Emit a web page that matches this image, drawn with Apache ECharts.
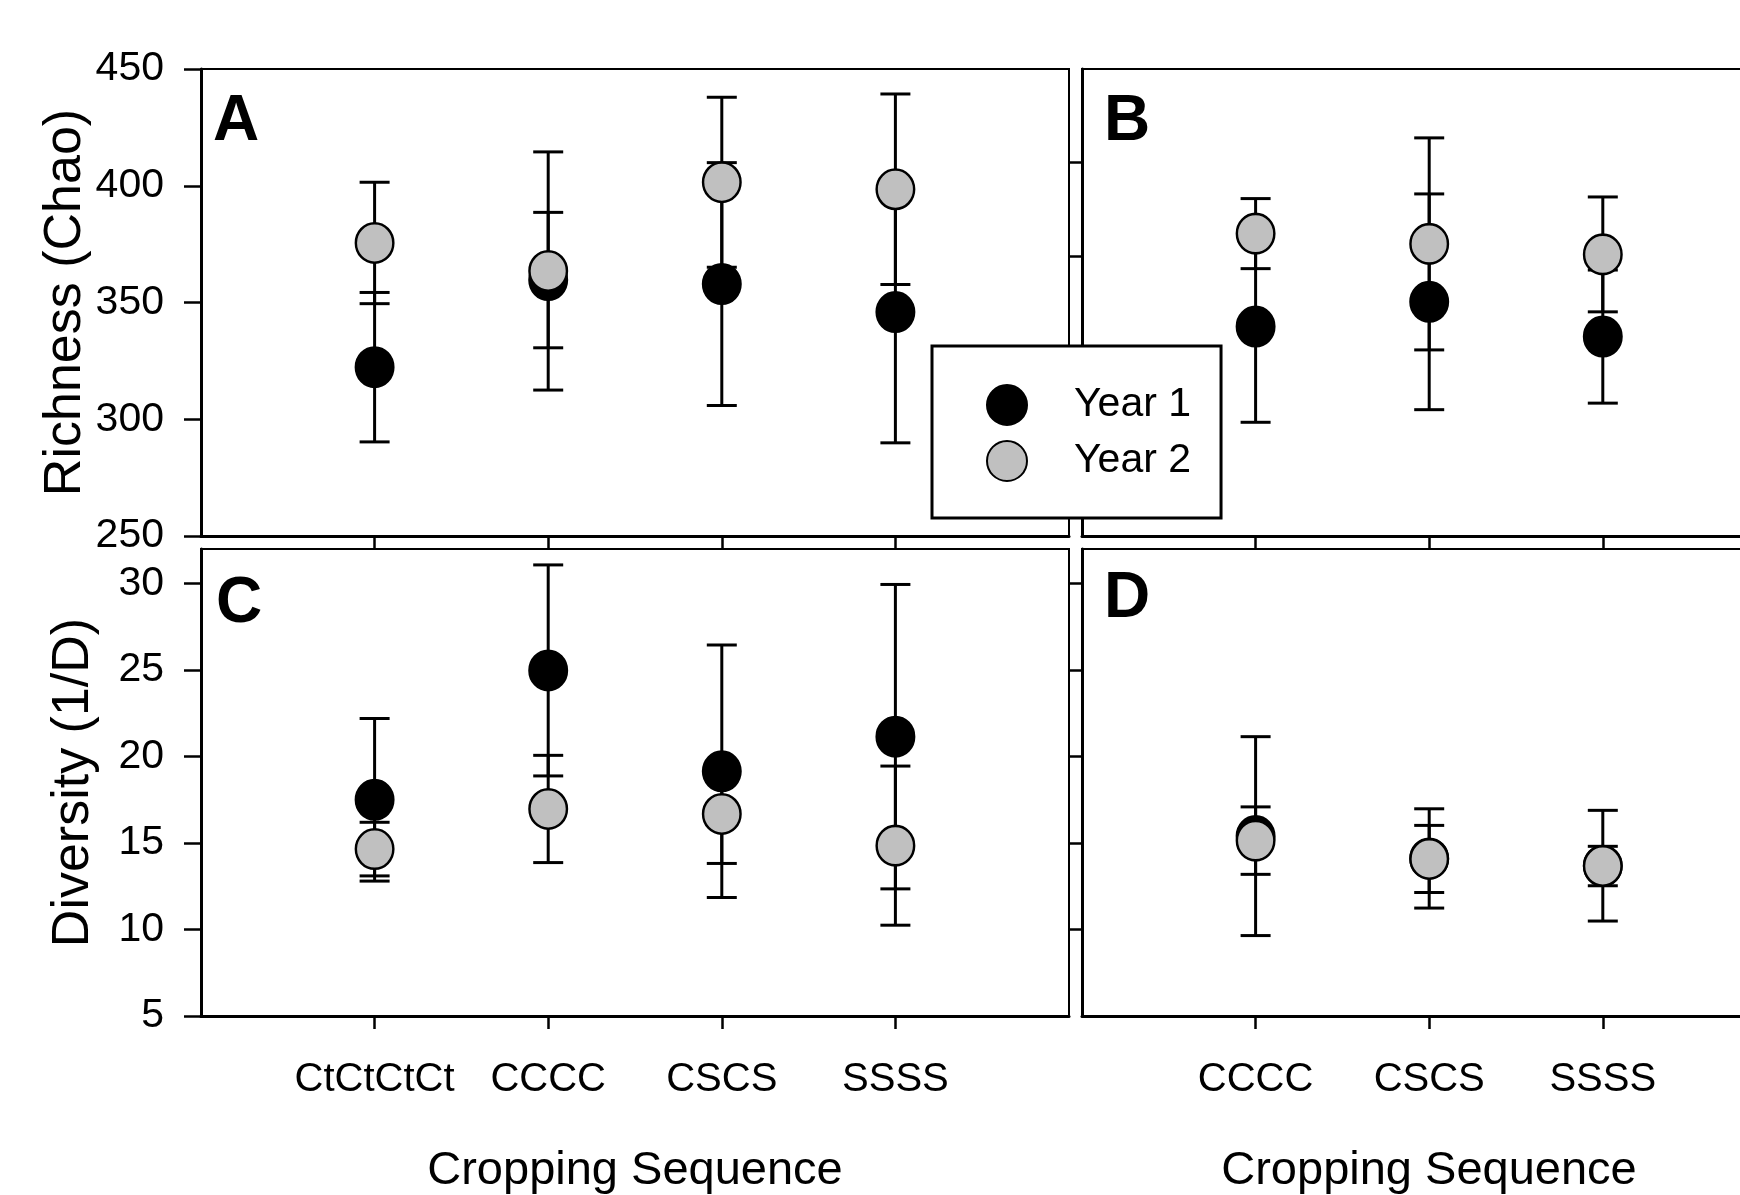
<!DOCTYPE html>
<html>
<head>
<meta charset="utf-8">
<script src="https://cdn.jsdelivr.net/npm/echarts@6/dist/echarts.min.js"></script>
<style>
  html, body { margin: 0; padding: 0; background: #fff; }
  #chart { width: 1740px; height: 1195px; }
</style>
</head>
<body>
<div id="chart"></div>
<script>
// cropping sequences (left panels A/C, right panels B/D)
const seqLeft = ['CtCtCtCt', 'CCCC', 'CSCS', 'SSSS'];
const seqRight = ['CCCC', 'CSCS', 'SSSS'];

// tick labels
const richTicks = [250, 300, 350, 400, 450];
const divTicks = [5, 10, 15, 20, 25, 30];

// A: richness, left panel
const richA1 = [322.3, 359.6, 357.9, 345.9];
const richA1Err = [32, 29, 52, 56];
const richA2 = [375.5, 363.5, 401.5, 398.5];
const richA2Err = [26, 51, 36.4, 40.8];

// B: richness, right panel
const richB1 = [339.7, 350.3, 335.4];
const richB1Err = [41, 46.2, 28.5];
const richB2 = [379.5, 375.1, 370.6];
const richB2Err = [15, 45.4, 24.6];

// C: diversity, left panel
const divC1 = [17.5, 24.98, 19.15, 21.15];
const divC1Err = [4.7, 6.1, 7.3, 8.8];
const divC2 = [14.65, 16.97, 16.68, 14.85];
const divC2Err = [1.55, 3.1, 2.86, 4.6];

// D: diversity, right panel
const divD1 = [15.4, 14.11, 13.69];
const divD1Err = [5.75, 2.87, 3.2];
const divD2 = [15.14, 14.08, 13.67];
const divD2Err = [1.95, 1.94, 1.14];

const FONT = '"Liberation Sans", Arial, sans-serif';
const BLACK = '#000';
const GREY = '#c0c0c0';

const chart = echarts.init(document.getElementById('chart'));

function makeGrid(left, top) {
  // right panels run past the page edge, like the reference
  return {
    left: left, top: top, width: 868, height: 467,
    outerBoundsMode: 'none', containLabel: false,
    show: true, borderColor: BLACK, borderWidth: 2, backgroundColor: 'transparent'
  };
}

function makeX(gridIndex, cats, showLabels) {
  const vals = cats.map((c, i) => i + 1);
  return {
    gridIndex: gridIndex, type: 'value', min: 0, max: 5, interval: 1,
    axisLine: { onZero: false, lineStyle: { color: BLACK, width: 3 } },
    axisTick: { customValues: vals, length: 13, lineStyle: { color: BLACK, width: 2.5 } },
    axisLabel: {
      show: showLabels, customValues: vals, margin: 44,
      fontSize: 40, color: BLACK, fontFamily: FONT,
      formatter: v => cats[v - 1] || ''
    },
    splitLine: { show: false }
  };
}

function makeY(gridIndex, min, max, interval, tickVals, labelled, name) {
  return {
    gridIndex: gridIndex, type: 'value', min: min, max: max, interval: interval,
    name: name || '', nameLocation: 'middle', nameGap: 101,
    nameTextStyle: { fontSize: 52, color: BLACK, fontFamily: FONT },
    axisLine: { lineStyle: { color: BLACK, width: 3 } },
    axisTick: { customValues: tickVals, length: labelled ? 17 : 12, lineStyle: { color: BLACK, width: 2.5 } },
    axisLabel: {
      show: labelled, customValues: tickVals, margin: 37,
      fontSize: 41, color: BLACK, fontFamily: FONT
    },
    splitLine: { show: false }
  };
}

function points(name, g, means, color) {
  return {
    type: 'scatter', name: name, xAxisIndex: g, yAxisIndex: g,
    data: means.map((m, i) => [i + 1, m]),
    symbol: 'circle', symbolSize: [37.5, 39.5], symbolKeepAspect: false,
    itemStyle: { color: color, borderColor: BLACK, borderWidth: 2.5, opacity: 1 },
    emphasis: { disabled: true },
    z: 3
  };
}

function errorBars(name, g, means, errs) {
  return {
    type: 'custom', name: name, xAxisIndex: g, yAxisIndex: g,
    data: means.map((m, i) => [i + 1, m - errs[i], m + errs[i]]),
    renderItem: function (params, api) {
      const x = api.value(0);
      const lo = api.coord([x, api.value(1)]);
      const hi = api.coord([x, api.value(2)]);
      const hw = 15;
      const style = { stroke: BLACK, lineWidth: 3 };
      return {
        type: 'group',
        children: [
          { type: 'line', shape: { x1: lo[0], y1: lo[1], x2: hi[0], y2: hi[1] }, style: style },
          { type: 'line', shape: { x1: lo[0] - hw, y1: lo[1], x2: lo[0] + hw, y2: lo[1] }, style: style },
          { type: 'line', shape: { x1: hi[0] - hw, y1: hi[1], x2: hi[0] + hw, y2: hi[1] }, style: style }
        ]
      };
    },
    silent: true,
    z: 2
  };
}

const letterStyle = { fontSize: 64, fontWeight: 'bold', color: BLACK, fontFamily: FONT };
const titleStyle = { fontSize: 47, fontWeight: 'normal', color: BLACK, fontFamily: FONT };

chart.setOption({
  animation: false,
  backgroundColor: '#fff',
  title: [
    { text: 'A', left: 213, top: 90, padding: 0, textStyle: letterStyle },
    { text: 'B', left: 1104, top: 90, padding: 0, textStyle: letterStyle },
    { text: 'C', left: 216, top: 572, padding: 0, textStyle: letterStyle },
    { text: 'D', left: 1104, top: 567, padding: 0, textStyle: letterStyle },
    { text: 'Cropping Sequence', left: 635, top: 1148, textAlign: 'center', padding: 0, textStyle: titleStyle },
    { text: 'Cropping Sequence', left: 1429, top: 1148, textAlign: 'center', padding: 0, textStyle: titleStyle }
  ],
  legend: {
    data: ['Year 1', 'Year 2'],
    orient: 'vertical',
    left: 932, top: 346,
    padding: [38, 30, 36, 54],
    itemWidth: 40, itemHeight: 42, itemGap: 14,
    borderColor: BLACK, borderWidth: 3, borderRadius: 0,
    backgroundColor: '#fff',
    selectedMode: false,
    textStyle: { fontSize: 41, color: BLACK, fontFamily: FONT, padding: [0, 0, 0, 42] },
    z: 10
  },
  grid: [
    makeGrid(201, 69),
    makeGrid(1082, 69),
    makeGrid(201, 549),
    makeGrid(1082, 549)
  ],
  xAxis: [
    makeX(0, seqLeft, false),
    makeX(1, seqRight, false),
    makeX(2, seqLeft, true),
    makeX(3, seqRight, true)
  ],
  yAxis: [
    makeY(0, 250, 450, 50, richTicks, true, 'Richness (Chao)'),
    makeY(1, 250, 450, 40, [290, 330, 370, 410], false),
    makeY(2, 5, 32, 5, divTicks, true, 'Diversity (1/D)'),
    makeY(3, 5, 32, 5, [10, 15, 20, 25, 30], false)
  ],
  series: [
    errorBars('A Year 1 SE', 0, richA1, richA1Err),
    errorBars('A Year 2 SE', 0, richA2, richA2Err),
    errorBars('B Year 1 SE', 1, richB1, richB1Err),
    errorBars('B Year 2 SE', 1, richB2, richB2Err),
    errorBars('C Year 1 SE', 2, divC1, divC1Err),
    errorBars('C Year 2 SE', 2, divC2, divC2Err),
    errorBars('D Year 1 SE', 3, divD1, divD1Err),
    errorBars('D Year 2 SE', 3, divD2, divD2Err),
    points('Year 1', 0, richA1, BLACK),
    points('Year 2', 0, richA2, GREY),
    points('Year 1', 1, richB1, BLACK),
    points('Year 2', 1, richB2, GREY),
    points('Year 1', 2, divC1, BLACK),
    points('Year 2', 2, divC2, GREY),
    points('Year 1', 3, divD1, BLACK),
    points('Year 2', 3, divD2, GREY)
  ]
});
</script>
</body>
</html>
